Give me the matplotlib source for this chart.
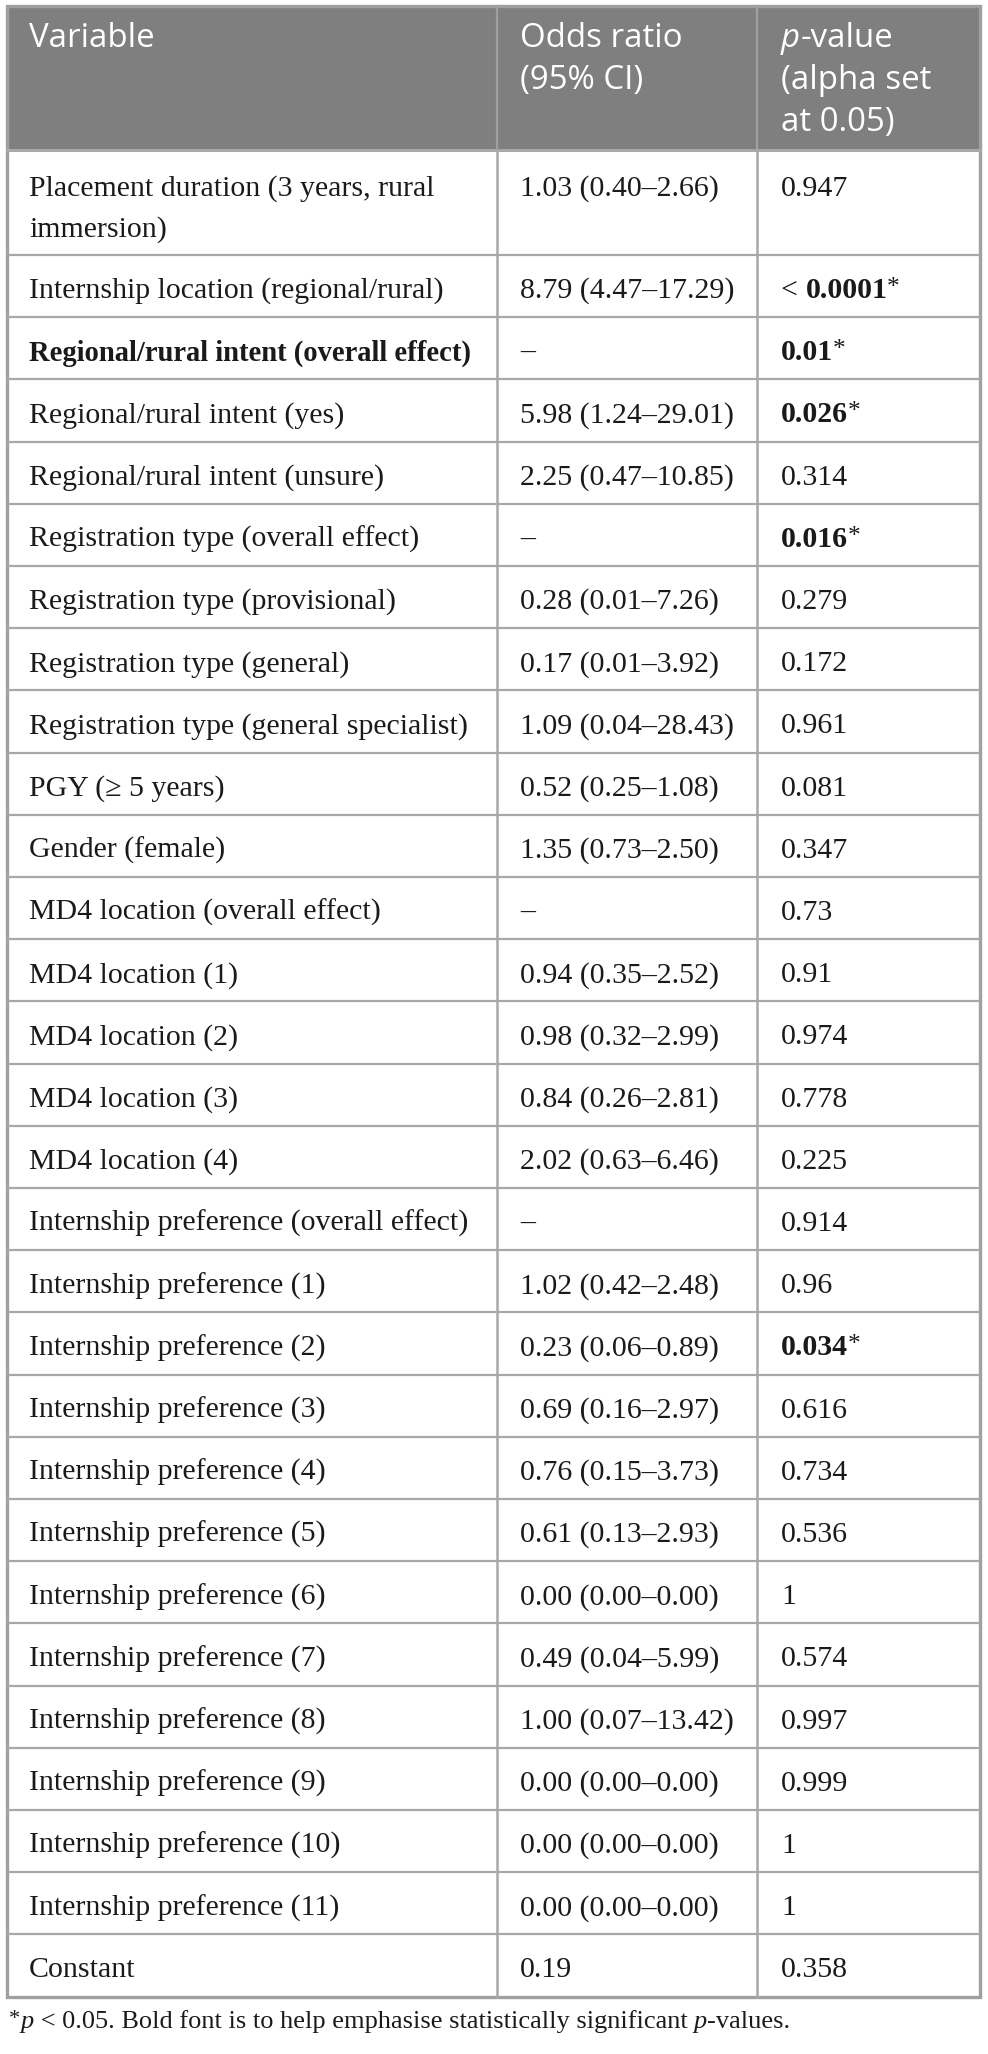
import matplotlib
matplotlib.use("Agg")
import matplotlib.pyplot as plt
from matplotlib.patches import Rectangle

# table content
headers = ["Variable", "Odds ratio\n(95% CI)", "p-value\n(alpha set\nat 0.05)"]

variables = [
    "Placement duration (3 years, rural\nimmersion)",
    "Internship location (regional/rural)",
    "Regional/rural intent (overall effect)",
    "Regional/rural intent (yes)",
    "Regional/rural intent (unsure)",
    "Registration type (overall effect)",
    "Registration type (provisional)",
    "Registration type (general)",
    "Registration type (general specialist)",
    "PGY (\u2265 5 years)",
    "Gender (female)",
    "MD4 location (overall effect)",
    "MD4 location (1)",
    "MD4 location (2)",
    "MD4 location (3)",
    "MD4 location (4)",
    "Internship preference (overall effect)",
    "Internship preference (1)",
    "Internship preference (2)",
    "Internship preference (3)",
    "Internship preference (4)",
    "Internship preference (5)",
    "Internship preference (6)",
    "Internship preference (7)",
    "Internship preference (8)",
    "Internship preference (9)",
    "Internship preference (10)",
    "Internship preference (11)",
    "Constant",
]

odds_ratios = [
    "1.03 (0.40\u20132.66)", "8.79 (4.47\u201317.29)", "\u2013", "5.98 (1.24\u201329.01)",
    "2.25 (0.47\u201310.85)", "\u2013", "0.28 (0.01\u20137.26)", "0.17 (0.01\u20133.92)",
    "1.09 (0.04\u201328.43)", "0.52 (0.25\u20131.08)", "1.35 (0.73\u20132.50)", "\u2013",
    "0.94 (0.35\u20132.52)", "0.98 (0.32\u20132.99)", "0.84 (0.26\u20132.81)",
    "2.02 (0.63\u20136.46)", "\u2013", "1.02 (0.42\u20132.48)", "0.23 (0.06\u20130.89)",
    "0.69 (0.16\u20132.97)", "0.76 (0.15\u20133.73)", "0.61 (0.13\u20132.93)",
    "0.00 (0.00\u20130.00)", "0.49 (0.04\u20135.99)", "1.00 (0.07\u201313.42)",
    "0.00 (0.00\u20130.00)", "0.00 (0.00\u20130.00)", "0.00 (0.00\u20130.00)", "0.19",
]

p_prefix = ["", "< ", "", "", "", "", "", "", "", "", "", "", "", "", "", "",
            "", "", "", "", "", "", "", "", "", "", "", "", ""]
p_values = [
    "0.947", "0.0001*", "0.01*", "0.026*", "0.314", "0.016*", "0.279", "0.172",
    "0.961", "0.081", "0.347", "0.73", "0.91", "0.974", "0.778", "0.225",
    "0.914", "0.96", "0.034*", "0.616", "0.734", "0.536", "1", "0.574",
    "0.997", "0.999", "1", "1", "0.358",
]
bold_variable = ["Regional/rural intent (overall effect)"]

W, H = 988, 2054
fig = plt.figure(figsize=(W / 100, H / 100), dpi=100)
ax = fig.add_axes([0, 0, 1, 1])
ax.set_xlim(0, W)
ax.set_ylim(H, 0)
ax.axis("off")
renderer = fig.canvas.get_renderer()

serif = ["Liberation Serif", "DejaVu Serif"]
sans = ["Open Sans", "DejaVu Sans"]
body_size = 21.5
head_size = 23.8
line_gap = 42

left, right = 7, 980
col_x = [left, 497, 757, right]
pad = [22, 23, 24]
header_top, header_bot = 6, 150
row_h = 62.2

grid_col = "#a8a8a8"
head_bg = "#7f7f7f"
text_col = "#1a1a1a"

# header
ax.add_patch(Rectangle((left, header_top), right - left, header_bot - header_top,
                       facecolor=head_bg, edgecolor="none"))


def draw_pieces(x, y, pieces, size, family):
    # draw consecutive text runs, each with its own style
    for txt, weight, style, dy, scale in pieces:
        t = ax.text(x, y - dy, txt, fontsize=size * scale, family=family, weight=weight,
                    style=style, color=text_col, va="baseline", ha="left")
        x += t.get_window_extent(renderer).width
    return x


for c, h in enumerate(headers):
    for i, line in enumerate(h.split("\n")):
        y = header_top + 41 + i * line_gap
        x = col_x[c] + pad[c]
        if line.startswith("p-"):
            t = ax.text(x, y, "p", fontsize=head_size, family=sans, style="italic",
                        color="white", va="baseline")
            x += t.get_window_extent(renderer).width
            line = line[1:]
        ax.text(x, y, line, fontsize=head_size, family=sans, color="white", va="baseline")

# body rows
top = header_bot
row_tops = []
for k, var in enumerate(variables):
    n_lines = var.count("\n") + 1
    h = row_h + (n_lines - 1) * (105 - row_h)
    row_tops.append((top, h))
    base = top + 43 if n_lines == 1 else top + 46
    is_bold = var in bold_variable
    for i, line in enumerate(var.split("\n")):
        ax.text(col_x[0] + pad[0], base + i * 41, line,
                fontsize=body_size - 0.9 if is_bold else body_size, family=serif,
                weight="bold" if is_bold else "normal",
                color=text_col, va="baseline")
    ax.text(col_x[1] + pad[1], base, odds_ratios[k], fontsize=body_size, family=serif,
            color=text_col, va="baseline")
    sig = p_values[k].endswith("*")
    pieces = []
    if p_prefix[k]:
        pieces.append((p_prefix[k], "normal", "normal", 0, 1))
    if sig:
        pieces.append((p_values[k][:-1], "bold", "normal", 0, 1))
        pieces.append(("*", "normal", "normal", 4, 0.85))
    else:
        pieces.append((p_values[k], "normal", "normal", 0, 1))
    draw_pieces(col_x[2] + pad[2], base, pieces, body_size, serif)
    top += h

table_bot = top

# grid lines
for (t, h) in row_tops[1:]:
    ax.plot([left, right], [t, t], color=grid_col, lw=1.6, solid_capstyle="butt")
ax.plot([left, right], [header_bot, header_bot], color=grid_col, lw=2.2)
for x in col_x[1:-1]:
    ax.plot([x, x], [header_top, header_bot], color="#a0a0a0", lw=1.6)
    ax.plot([x, x], [header_bot, table_bot], color=grid_col, lw=1.8)
ax.add_patch(Rectangle((left, header_top), right - left, table_bot - header_top,
                       facecolor="none", edgecolor="#a0a0a0", lw=2.4))

# footnote
foot_size = 19.0
draw_pieces(9, table_bot + 31, [
    ("*", "normal", "normal", 4, 0.85),
    ("p", "normal", "italic", 0, 1),
    (" < 0.05. Bold font is to help emphasise statistically significant ", "normal", "normal", 0, 1),
    ("p", "normal", "italic", 0, 1),
    ("-values.", "normal", "normal", 0, 1),
], foot_size, serif)

fig.savefig("out.png", dpi=100)
